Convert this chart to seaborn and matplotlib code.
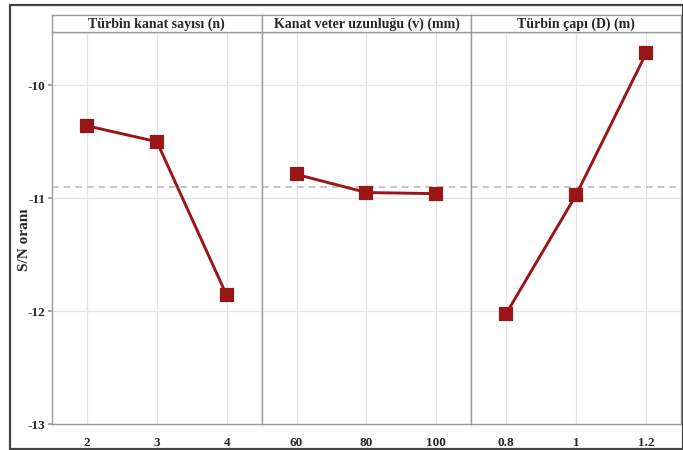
import matplotlib
matplotlib.use("Agg")
import matplotlib.pyplot as plt
from matplotlib.patches import Rectangle
import numpy as np
import pandas as pd
import seaborn as sns

sns.set_theme(style="white")
plt.rcParams["font.family"] = ["Liberation Serif", "DejaVu Serif"]
plt.rcParams["font.weight"] = "bold"

# Factor names (strip headers)
factors = ["Türbin kanat sayısı (n)", "Kanat veter uzunluğu (v) (mm)", "Türbin çapı (D) (m)"]
# Levels per factor
levels_n = ["2", "3", "4"]
levels_v = ["60", "80", "100"]
levels_d = ["0.8", "1", "1.2"]
# Mean S/N ratio per level
sn_n = [-10.36, -10.50, -11.86]
sn_v = [-10.79, -10.95, -10.96]
sn_d = [-12.02, -10.97, -9.72]

yticks = [-10, -11, -12, -13]
ylabel = "S/N oranı"

all_levels = [levels_n, levels_v, levels_d]
all_sn = [sn_n, sn_v, sn_d]
grand_mean = float(np.mean(sn_n + sn_v + sn_d))

W, H = 683, 450
fig = plt.figure(figsize=(W / 100, H / 100), dpi=100)

left_px, right_px = 52, 681
bottom_px, top_px, head_px = 424.3, 32, 14.7
pw = (right_px - left_px) / 3

line_col = "#9A1616"
spine_col = "#9A9A9A"
grid_col = "#E4E4E4"

for i, (name, lv, sn) in enumerate(zip(factors, all_levels, all_sn)):
    x0 = (left_px + i * pw) / W
    ax = fig.add_axes([x0, 1 - bottom_px / H, pw / W, (bottom_px - top_px) / H])
    df = pd.DataFrame({"level": lv, "sn": sn})
    sns.pointplot(data=df, x="level", y="sn", order=lv, color=line_col,
                  markers="s", markersize=8.5, linewidth=2.1, ax=ax,
                  errorbar=None, zorder=5)
    ax.set_xlim(-0.5, len(lv) - 0.5)
    ax.set_ylim(-13, -9.53)
    ax.set_yticks(yticks)
    ax.set_xticks(range(len(lv)))
    ax.set_xticklabels(lv, fontsize=9.5, fontweight="bold")
    ax.set_xlabel("")
    ax.set_ylabel("")
    ax.grid(True, color=grid_col, linewidth=0.9)
    ax.set_axisbelow(True)
    ax.axhline(grand_mean, color="#BBBBBB", linestyle=(0, (4, 3)), linewidth=1.2, zorder=2)
    for s in ax.spines.values():
        s.set_color(spine_col)
        s.set_linewidth(1.0)
    ax.tick_params(axis="x", length=3, color=spine_col, pad=6)
    if i == 0:
        ax.set_yticklabels([str(t) for t in yticks], fontsize=9.5, fontweight="bold")
        ax.tick_params(axis="y", length=3, color=spine_col, pad=2, left=True)
    else:
        ax.tick_params(axis="y", left=False, labelleft=False)

    # strip header
    hx = fig.add_axes([x0, 1 - top_px / H, pw / W, (top_px - head_px) / H])
    hx.set_xticks([])
    hx.set_yticks([])
    for s in hx.spines.values():
        s.set_color(spine_col)
        s.set_linewidth(1.0)
    hx.text(0.5, 0.45, name, ha="center", va="center", fontsize=10,
            fontweight="bold", transform=hx.transAxes)

fig.text(25 / W, 1 - 240 / H, ylabel, rotation=90, ha="center", va="center",
         fontsize=11, fontweight="bold")

# outer frame
fig.patches.append(Rectangle((10 / W, 1 - 449 / H), (W - 9.5) / W, (449 - 4.5) / H,
                             transform=fig.transFigure, fill=False,
                             edgecolor="#444444", linewidth=1.6))

fig.savefig("out.png", dpi=100)
